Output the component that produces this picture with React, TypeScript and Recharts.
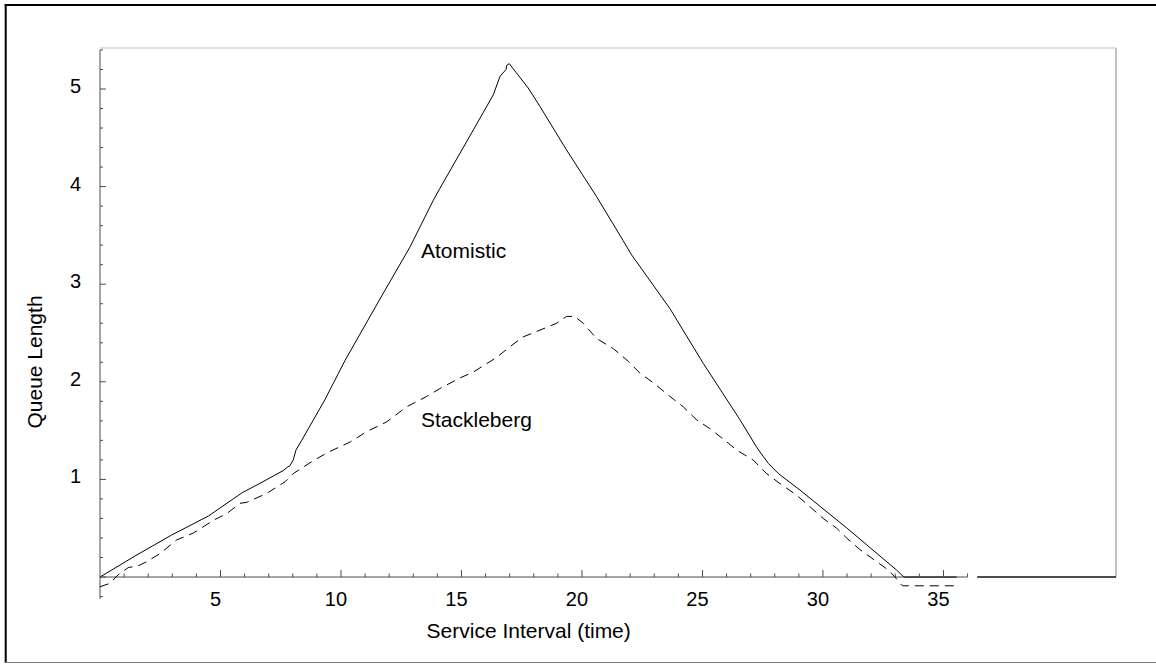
import React from 'react';
import { LineChart, Line, XAxis, YAxis, ReferenceLine, ReferenceDot } from 'recharts';

// Queue length over the service interval for the two pricing schemes.
const atomisticTime = [
  0, 1.45, 2.97, 4.5, 5.9, 6.64, 7.6, 7.8, 7.88, 8.02, 8.13, 8.37, 9.34, 10.17,
  11.76, 12.86, 13.83, 14.1, 15.49, 16.32, 16.6, 16.85, 16.87, 16.98, 17.77,
  18.26, 19.36, 20.6, 21.7, 22.06, 23.65, 25.03, 26.56, 27.25, 27.39, 27.73,
  28.15, 29.05, 31.0, 33.06, 33.36, 35.55,
];
const atomisticQueue = [
  0, 0.215, 0.43, 0.625, 0.864, 0.96, 1.09, 1.13, 1.14, 1.2, 1.3, 1.4, 1.82, 2.22,
  2.91, 3.38, 3.86, 3.98, 4.58, 4.94, 5.13, 5.2, 5.24, 5.26, 5.01,
  4.82, 4.375, 3.9, 3.45, 3.3, 2.75, 2.19, 1.61, 1.33, 1.28, 1.165,
  1.06, 0.89, 0.5, 0.07, 0, 0,
];

const stacklebergTime = [
  0, 0.41, 0.66, 0.83, 1.2, 1.5, 1.94, 2.49, 3.18, 3.87, 4.7, 5.26, 5.81, 6.09,
  6.92, 7.68, 8.02, 8.71, 9.4, 10.4, 11.07, 11.9, 12.17, 12.73, 13.56, 14.1,
  14.94, 15.49, 16.46, 17.01, 17.56, 18.26, 18.95, 19.36, 19.7, 20.05, 20.6,
  21.3, 21.92, 22.4, 22.96, 23.65, 24.2, 24.76, 25.31, 26.0, 26.42, 27.1, 27.66,
  28.2, 28.9, 29.46, 30.01, 30.57, 30.98, 31.54, 32.23, 32.71, 32.99, 33.2, 33.3,
  35.55,
];
const stacklebergQueue = [
  -0.1, -0.065, 0, 0.04, 0.1, 0.105, 0.157, 0.24, 0.38, 0.45, 0.58, 0.65, 0.755, 0.765,
  0.857, 0.976, 1.06, 1.17, 1.27, 1.386, 1.49, 1.59, 1.64, 1.745, 1.85, 1.93,
  2.04, 2.1, 2.25, 2.36, 2.46, 2.53, 2.6, 2.67, 2.67, 2.6, 2.445,
  2.34, 2.21, 2.09, 1.99, 1.85, 1.745, 1.61, 1.52, 1.386, 1.3, 1.2, 1.06,
  0.96, 0.84, 0.72, 0.6, 0.5, 0.4, 0.28, 0.157, 0.072, 0, -0.065, -0.09,
  -0.09,
];

const xTicks = [
  1, 2, 3, 4, 5, 6, 7, 8, 9, 10, 11, 12, 13, 14, 15, 16, 17, 18, 19, 20,
  21, 22, 23, 24, 25, 26, 27, 28, 29, 30, 31, 32, 33, 34, 35, 36,
];
const xLabels = [5, 10, 15, 20, 25, 30, 35];
const yTicks = [
  -0.2, 0, 0.2, 0.4, 0.6, 0.8, 1, 1.2, 1.4, 1.6, 1.8, 2, 2.2, 2.4, 2.6, 2.8,
  3, 3.2, 3.4, 3.6, 3.8, 4, 4.2, 4.4, 4.6, 4.8, 5, 5.2, 5.4,
];
const yLabels = [1, 2, 3, 4, 5];

const seriesNames = ['Atomistic', 'Stackleberg'];
const xTitle = 'Service Interval (time)';
const yTitle = 'Queue Length';

const X_MAX = 42.16;
const Y_MIN = -0.3;
const Y_MAX = 5.42;
const X_AXIS_END = 36;
const Y_AXIS_RANGE = [-0.225, 5.4];

const W = 1156;
const H = 664;
const FONT = '"Liberation Sans", Arial, Helvetica, sans-serif';
const AXIS = '#4a4a4a';
const FRAME = '#c2c2c2';

const zip = (xs: number[], ys: number[]) => xs.map((x, i) => ({ x, y: ys[i] }));
const atomisticData = zip(atomisticTime, atomisticQueue);
const stacklebergData = zip(stacklebergTime, stacklebergQueue);

const isWhole = (v: number) => Math.abs(v - Math.round(v)) < 1e-6;

function YTick(props: any) {
  const { x, y, payload } = props;
  const v = payload.value as number;
  const major = isWhole(v);
  return (
    <g>
      <line x1={x} x2={x + (major ? 6 : 3)} y1={y} y2={y} stroke={AXIS} strokeWidth={1} />
      {yLabels.includes(v) && (
        <text x={x - 19} y={y + 4} textAnchor="end" fontSize={20} fontFamily={FONT} fill="#000">
          {v}
        </text>
      )}
    </g>
  );
}

const xTickShape = (v: number) => (p: any) => {
  const { cx, cy } = p;
  const major = xLabels.includes(v);
  return (
    <g>
      <line x1={cx} x2={cx} y1={cy} y2={cy - (major ? 7 : 3.5)} stroke={AXIS} strokeWidth={1} />
      {major && (
        <text x={cx - 5} y={cy + 29} textAnchor="middle" fontSize={20} fontFamily={FONT} fill="#000">
          {v}
        </text>
      )}
    </g>
  );
};

const noteShape = (label: string) => (p: any) => (
  <text x={p.cx} y={p.cy} textAnchor="start" fontSize={21} fontFamily={FONT} fill="#000">
    {label}
  </text>
);

export default function App() {
  return (
    <div style={{ position: 'absolute', left: 0, top: 0, width: W, height: H, background: '#fff' }}>
      <LineChart
        width={W}
        height={H}
        margin={{ top: 48, right: W - 1116, bottom: 57.7, left: 40 }}
      >
        <XAxis type="number" dataKey="x" domain={[0, X_MAX]} hide allowDataOverflow />
        <YAxis
          type="number"
          width={60}
          domain={[Y_MIN, Y_MAX]}
          allowDataOverflow
          ticks={yTicks}
          interval={0}
          axisLine={false}
          tickLine={false}
          tickSize={0}
          tickMargin={0}
          tick={<YTick />}
        />

        {/* plot frame */}
        <ReferenceLine
          segment={[{ x: 0, y: Y_MAX }, { x: X_MAX, y: Y_MAX }]}
          stroke={FRAME}
          strokeWidth={1}
          ifOverflow="visible"
        />
        <ReferenceLine
          segment={[{ x: X_MAX, y: 0 }, { x: X_MAX, y: Y_MAX }]}
          stroke={FRAME}
          strokeWidth={2}
          ifOverflow="visible"
        />
        <ReferenceLine
          segment={[{ x: 36.4, y: 0 }, { x: X_MAX, y: 0 }]}
          stroke="#111"
          strokeWidth={1.5}
          ifOverflow="visible"
        />

        {/* axes drawn through the origin */}
        <ReferenceLine
          segment={[{ x: 0, y: 0 }, { x: X_AXIS_END, y: 0 }]}
          stroke={AXIS}
          strokeWidth={1}
          ifOverflow="visible"
        />
        <ReferenceLine
          segment={[{ x: 0, y: Y_AXIS_RANGE[0] }, { x: 0, y: Y_AXIS_RANGE[1] }]}
          stroke={AXIS}
          strokeWidth={1}
          ifOverflow="visible"
        />
        {xTicks.map((t) => (
          <ReferenceDot key={`xt-${t}`} x={t} y={0} ifOverflow="visible" shape={xTickShape(t)} />
        ))}

        <Line
          data={stacklebergData}
          dataKey="y"
          name={seriesNames[1]}
          type="linear"
          stroke="#000"
          strokeWidth={1}
          strokeDasharray="9 6"
          dot={false}
          activeDot={false}
          isAnimationActive={false}
        />
        <Line
          data={atomisticData}
          dataKey="y"
          name={seriesNames[0]}
          type="linear"
          stroke="#000"
          strokeWidth={1}
          dot={false}
          activeDot={false}
          isAnimationActive={false}
        />

        <ReferenceDot x={13.32} y={3.27} ifOverflow="visible" shape={noteShape(seriesNames[0])} />
        <ReferenceDot x={13.32} y={1.537} ifOverflow="visible" shape={noteShape(seriesNames[1])} />
      </LineChart>

      <svg
        width={W}
        height={H}
        style={{ position: 'absolute', left: 0, top: 0, pointerEvents: 'none' }}
      >
        <line x1={5.7} y1={4} x2={5.7} y2={663} stroke="#000" strokeWidth={2} />
        <line x1={4.7} y1={5} x2={W} y2={5} stroke="#000" strokeWidth={2} />
        <line x1={5} y1={662.5} x2={W} y2={662.5} stroke="#7a7a7a" strokeWidth={1} />
        <text
          x={41.7}
          y={362}
          transform="rotate(-90 41.7 362)"
          textAnchor="middle"
          fontSize={21}
          fontFamily={FONT}
          fill="#000"
        >
          {yTitle}
        </text>
        <text x={528.7} y={638} textAnchor="middle" fontSize={21} fontFamily={FONT} fill="#000">
          {xTitle}
        </text>
      </svg>
    </div>
  );
}
